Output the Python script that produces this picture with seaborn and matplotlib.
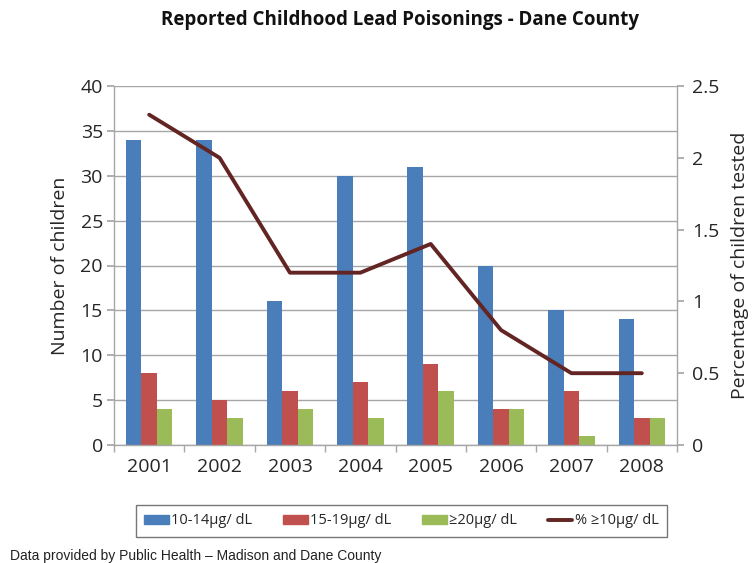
import matplotlib
matplotlib.use("Agg")
import matplotlib.pyplot as plt
import matplotlib.patches as mpatches
import matplotlib.lines as mlines
import numpy as np
import pandas as pd
import seaborn as sns

years = ["2001", "2002", "2003", "2004", "2005", "2006", "2007", "2008"]
level_10_14 = [34, 34, 16, 30, 31, 20, 15, 14]
level_15_19 = [8, 5, 6, 7, 9, 4, 6, 3]
level_20_up = [4, 3, 4, 3, 6, 4, 1, 3]
pct_over_10 = [2.3, 2.0, 1.2, 1.2, 1.4, 0.8, 0.5, 0.5]
series_names = ["10-14µg/ dL", "15-19µg/ dL", "≥20µg/ dL"]
line_name = "% ≥10µg/ dL"

colors = ["#4A7EBB", "#C0504D", "#9BBB59"]
line_color = "#632523"
grid_color = "#A6A6A6"

sns.set_theme(style="white")
plt.rcParams["font.family"] = ["Open Sans", "DejaVu Sans"]

df = pd.DataFrame({
    "year": years * 3,
    "count": level_10_14 + level_15_19 + level_20_up,
    "level": [series_names[0]] * 8 + [series_names[1]] * 8 + [series_names[2]] * 8,
})

fig = plt.figure(figsize=(7.52, 5.63), dpi=100)
ax = fig.add_axes([114 / 752, 1 - 445 / 563, (677 - 114) / 752, (445 - 86) / 563])

sns.barplot(data=df, x="year", y="count", hue="level", hue_order=series_names,
            palette=colors, width=0.66, saturation=1, ax=ax, legend=False,
            edgecolor="none", linewidth=0)

ax.set_ylim(0, 40)
ax.set_yticks(np.arange(0, 41, 5))
ax.set_xlim(-0.5, 7.5)
ax.yaxis.grid(True, color=grid_color, linewidth=1)
ax.set_axisbelow(True)
for s in ["top", "right"]:
    ax.spines[s].set_visible(False)
for s in ["left", "bottom"]:
    ax.spines[s].set_color(grid_color)
    ax.spines[s].set_linewidth(1)
ax.tick_params(axis="y", which="major", length=5, color=grid_color, labelsize=14, pad=3, left=True)
ax.tick_params(axis="x", which="major", length=0, labelsize=14, pad=9)
ax.set_xticks(np.arange(-0.5, 8, 1), minor=True)
ax.tick_params(axis="x", which="minor", length=5, color=grid_color, bottom=True)
ax.set_xlabel("")
ax.set_ylabel("Number of children", fontsize=14, labelpad=8)

ax2 = ax.twinx()
sns.pointplot(x=years, y=pct_over_10, color=line_color, marker="", linewidth=2.8,
              errorbar=None, ax=ax2)
ax2.set_xlim(-0.5, 7.5)
ax2.set_ylim(0, 2.5)
ax2.set_yticks([0, 0.5, 1, 1.5, 2, 2.5])
ax2.set_yticklabels(["0", "0.5", "1", "1.5", "2", "2.5"])
for s in ["top", "left", "bottom"]:
    ax2.spines[s].set_visible(False)
ax2.spines["right"].set_color(grid_color)
ax2.spines["right"].set_linewidth(1)
ax2.tick_params(axis="y", length=5, color=grid_color, labelsize=14, pad=6, right=True)
ax2.set_ylabel("Percentage of children tested", fontsize=14, labelpad=8)
ax2.grid(False)

fig.text(400 / 752, 1 - 20 / 563, "Reported Childhood Lead Poisonings - Dane County",
         ha="center", va="center", fontsize=13.5, fontweight="bold", color="#111111")

handles = [mpatches.Patch(color=c, label=n) for c, n in zip(colors, series_names)]
handles.append(mlines.Line2D([], [], color=line_color, linewidth=2.8, label=line_name))
leg = fig.legend(handles=handles, loc="center", bbox_to_anchor=(401.5 / 752, 1 - 521 / 563),
                 ncol=4, frameon=True, fancybox=False, fontsize=10.5,
                 handlelength=1.7, handleheight=0.55, handletextpad=0.15, columnspacing=2.1,
                 borderpad=0.6, borderaxespad=0)
leg.get_frame().set_edgecolor("#555555")
leg.get_frame().set_linewidth(1)

fig.text(10 / 752, 1 - 556 / 563, "Data provided by Public Health \u2013 Madison and Dane County",
         ha="left", va="center", fontsize=10, family=["Liberation Sans", "DejaVu Sans"],
         color="#222222")

fig.savefig("out.png", dpi=100)
